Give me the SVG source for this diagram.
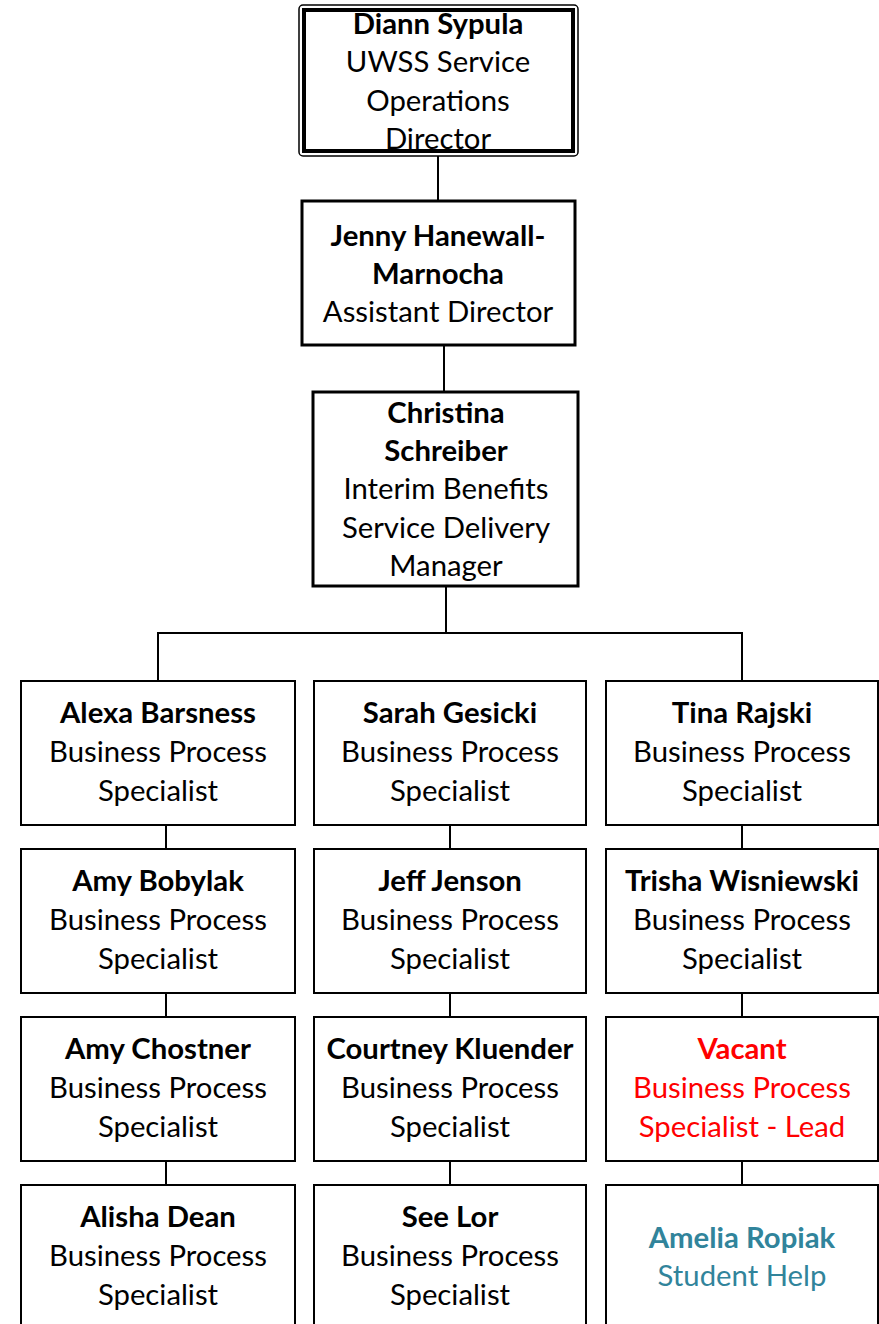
<svg xmlns="http://www.w3.org/2000/svg" width="879" height="1324" viewBox="0 0 879 1324">
  <style>
    .box { fill: #ffffff; stroke: #000000; stroke-width: 2; }
    .box-major { fill: #ffffff; stroke: #000000; stroke-width: 3; }
    .conn { fill: none; stroke: #000000; stroke-width: 2; }
    text { font-family: Lato, "Liberation Sans", sans-serif; font-size: 29.3px; text-anchor: middle; fill: #000000; }
    .name { font-weight: bold; }
    .vacant { fill: #ff0000; }
    .student { fill: #31849b; }
  </style>
  <rect width="879" height="1324" fill="#ffffff"/>

  <!-- reporting lines -->
  <g id="connectors">
    <line class="conn" x1="438" y1="156" x2="438" y2="201"/>
    <line class="conn" x1="444" y1="345" x2="444" y2="392"/>
    <polyline class="conn" points="158,681 158,633 742,633 742,681"/>
    <line class="conn" x1="446" y1="586" x2="446" y2="633"/>
    <line class="conn" x1="166" y1="825" x2="166" y2="849"/>
    <line class="conn" x1="166" y1="993" x2="166" y2="1017"/>
    <line class="conn" x1="166" y1="1161" x2="166" y2="1185"/>
    <line class="conn" x1="450" y1="825" x2="450" y2="849"/>
    <line class="conn" x1="450" y1="993" x2="450" y2="1017"/>
    <line class="conn" x1="450" y1="1161" x2="450" y2="1185"/>
    <line class="conn" x1="742" y1="825" x2="742" y2="849"/>
    <line class="conn" x1="742" y1="993" x2="742" y2="1017"/>
    <line class="conn" x1="742" y1="1161" x2="742" y2="1185"/>
  </g>

  <!-- director -->
  <g id="node-sypula">
    <rect x="299" y="5" width="279" height="151" rx="4" fill="#ffffff" stroke="#000000" stroke-width="1.5"/>
    <rect x="304" y="10" width="269" height="141" fill="none" stroke="#000000" stroke-width="4"/>
    <text x="438" y="34" class="name">Diann Sypula</text>
    <text x="438" y="72">UWSS Service</text>
    <text x="438" y="111">Operations</text>
    <text x="438" y="149">Director</text>
  </g>

  <g id="node-hanewall-marnocha">
    <rect class="box-major" x="302" y="201" width="273" height="144"/>
    <text x="438" y="246" class="name">Jenny Hanewall-</text>
    <text x="438" y="284" class="name">Marnocha</text>
    <text x="438" y="322">Assistant Director</text>
  </g>

  <g id="node-schreiber">
    <rect class="box-major" x="313" y="392" width="265" height="194"/>
    <text x="446" y="423" class="name">Christina</text>
    <text x="446" y="461" class="name">Schreiber</text>
    <text x="446" y="499">Interim Benefits</text>
    <text x="446" y="538">Service Delivery</text>
    <text x="446" y="576">Manager</text>
  </g>

  <!-- column 1 -->
  <g id="node-barsness">
    <rect class="box" x="21" y="681" width="274" height="144"/>
    <text x="158" y="723" class="name">Alexa Barsness</text>
    <text x="158" y="762">Business Process</text>
    <text x="158" y="801">Specialist</text>
  </g>
  <g id="node-bobylak">
    <rect class="box" x="21" y="849" width="274" height="144"/>
    <text x="158" y="891" class="name">Amy Bobylak</text>
    <text x="158" y="930">Business Process</text>
    <text x="158" y="969">Specialist</text>
  </g>
  <g id="node-chostner">
    <rect class="box" x="21" y="1017" width="274" height="144"/>
    <text x="158" y="1059" class="name">Amy Chostner</text>
    <text x="158" y="1098">Business Process</text>
    <text x="158" y="1137">Specialist</text>
  </g>
  <g id="node-dean">
    <rect class="box" x="21" y="1185" width="274" height="144"/>
    <text x="158" y="1227" class="name">Alisha Dean</text>
    <text x="158" y="1266">Business Process</text>
    <text x="158" y="1305">Specialist</text>
  </g>

  <!-- column 2 -->
  <g id="node-gesicki">
    <rect class="box" x="314" y="681" width="272" height="144"/>
    <text x="450" y="723" class="name">Sarah Gesicki</text>
    <text x="450" y="762">Business Process</text>
    <text x="450" y="801">Specialist</text>
  </g>
  <g id="node-jenson">
    <rect class="box" x="314" y="849" width="272" height="144"/>
    <text x="450" y="891" class="name">Jeff Jenson</text>
    <text x="450" y="930">Business Process</text>
    <text x="450" y="969">Specialist</text>
  </g>
  <g id="node-kluender">
    <rect class="box" x="314" y="1017" width="272" height="144"/>
    <text x="450" y="1059" class="name">Courtney Kluender</text>
    <text x="450" y="1098">Business Process</text>
    <text x="450" y="1137">Specialist</text>
  </g>
  <g id="node-lor">
    <rect class="box" x="314" y="1185" width="272" height="144"/>
    <text x="450" y="1227" class="name">See Lor</text>
    <text x="450" y="1266">Business Process</text>
    <text x="450" y="1305">Specialist</text>
  </g>

  <!-- column 3 -->
  <g id="node-rajski">
    <rect class="box" x="606" y="681" width="272" height="144"/>
    <text x="742" y="723" class="name">Tina Rajski</text>
    <text x="742" y="762">Business Process</text>
    <text x="742" y="801">Specialist</text>
  </g>
  <g id="node-wisniewski">
    <rect class="box" x="606" y="849" width="272" height="144"/>
    <text x="742" y="891" class="name">Trisha Wisniewski</text>
    <text x="742" y="930">Business Process</text>
    <text x="742" y="969">Specialist</text>
  </g>
  <g id="node-vacant-lead">
    <rect class="box" x="606" y="1017" width="272" height="144"/>
    <text x="742" y="1059" class="name vacant">Vacant</text>
    <text x="742" y="1098" class="vacant">Business Process</text>
    <text x="742" y="1137" class="vacant">Specialist - Lead</text>
  </g>
  <g id="node-ropiak">
    <rect class="box" x="606" y="1185" width="272" height="144"/>
    <text x="742" y="1248" class="name student">Amelia Ropiak</text>
    <text x="742" y="1286" class="student">Student Help</text>
  </g>
</svg>
